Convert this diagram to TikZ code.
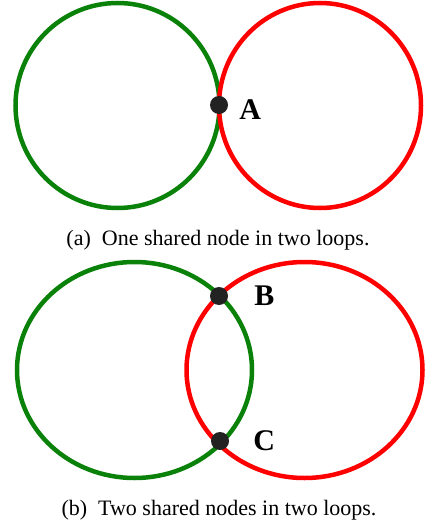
\documentclass[tikz,border=0pt]{standalone}
\usepackage{fontspec}
\setmainfont{Liberation Serif}
\usepackage{tikz}
\usetikzlibrary{positioning}
\definecolor{loopgreen}{HTML}{0A820A}
\definecolor{loopred}{HTML}{FF0000}
\definecolor{dotgray}{HTML}{222222}

\begin{document}
\begin{tikzpicture}[x=1pt, y=-1pt,
  loopa/.style={draw=loopgreen, line width=4.5pt},
  loopb/.style={draw=loopred, line width=4.5pt},
  shared/.style={
    circle, fill=dotgray, inner sep=0pt, minimum size=18pt
  },
  tag/.style={inner sep=0pt, font=\fontsize{30}{31}\selectfont\bfseries},
  caption/.style={inner sep=0pt, font=\fontsize{22}{24}\selectfont, anchor=base}
]
\useasboundingbox (0,0) rectangle (424,521);

% (a) loops touching in one node
\draw[loopa] (117.5,105.5) ellipse [x radius=102, y radius=102.5];
\draw[loopb] (320,105.5) ellipse [x radius=101, y radius=102.5];
\node[shared] (a) at (219,105) {};
\node[tag, right=11pt of a, yshift=-5pt] (la) {A};
\node[caption] (capa) at (218,245) {(a)~ One shared node in two loops.};

% (b) loops crossing in two nodes
\draw[loopa] (134.5,370) ellipse [x radius=117.5, y radius=108];
\draw[loopb] (304.5,370) ellipse [x radius=118, y radius=108];
\node[shared] (b) at (219,296) {};
\node[shared] (c) at (220,441) {};
\node[tag, right=26pt of b] (lb) {B};
\node[tag, right=24pt of c] (lc) {C};
\node[caption] (capb) at (219,515) {(b)~ Two shared nodes in two loops.};
\end{tikzpicture}
\end{document}
